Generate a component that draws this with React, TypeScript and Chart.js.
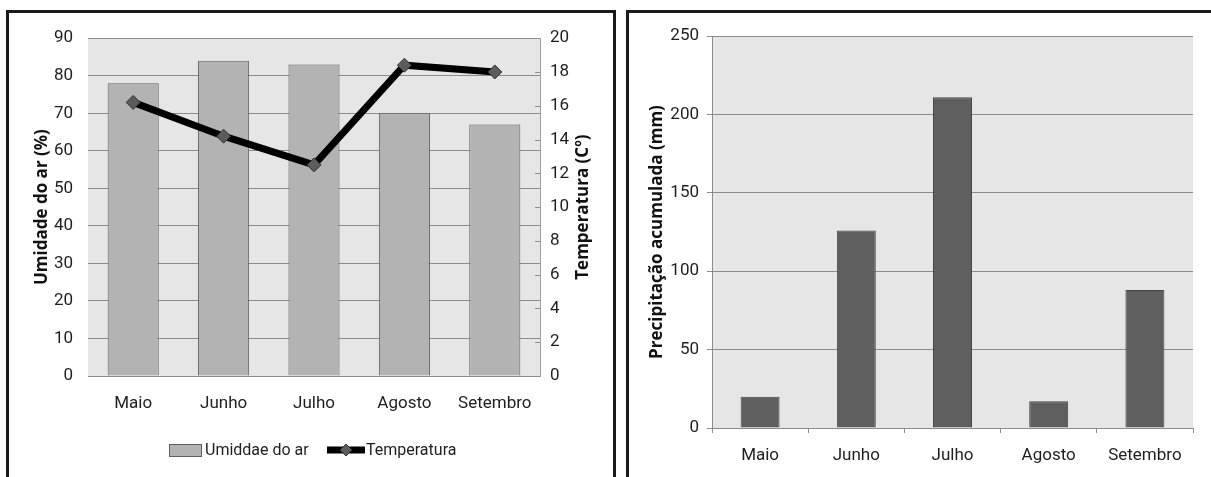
import { useEffect, useRef } from "react";
import { Chart, registerables } from "chart.js";

Chart.register(...registerables);

// Monthly data
const months = ["Maio", "Junho", "Julho", "Agosto", "Setembro"];
const humidity = [78, 84, 83, 70, 67];
const temperature = [16.2, 14.2, 12.5, 18.4, 18.0];
const rainfall = [20, 126, 211, 17, 88];

// Text
const humidityLabel = "Umiddae do ar";
const temperatureLabel = "Temperatura";
const humidityAxisTitle = "Umidade do ar (%)";
const temperatureAxisTitle = "Temperatura (Cº)";
const rainfallAxisTitle = "Precipitação acumulada (mm)";

const tickFont = { family: "Roboto, 'Liberation Sans', sans-serif", size: 17 };
const legendFont = "16px Roboto, 'Liberation Sans', sans-serif";
const titleFont = "bold 17px 'Open Sans', 'DejaVu Sans', sans-serif";
const textColor = "#1e1e1e";
const gridColor = "#8c8c8c";
const plotFill = "#e6e6e6";

// Fills the chart area before anything else is drawn
const plotBackground = {
  id: "plotBackground",
  beforeDraw(chart: any) {
    const { ctx, chartArea: a } = chart;
    ctx.save();
    ctx.fillStyle = plotFill;
    ctx.fillRect(a.left, a.top, a.width, a.height);
    ctx.restore();
  },
};

// Vertical axis title, read from bottom to top, centred on the chart area
function drawVerticalTitle(chart: any, text: string, x: number) {
  const { ctx, chartArea: a } = chart;
  ctx.save();
  ctx.translate(x, (a.top + a.bottom) / 2);
  ctx.rotate(-Math.PI / 2);
  ctx.font = titleFont;
  ctx.fillStyle = "#111";
  ctx.textAlign = "center";
  ctx.textBaseline = "middle";
  ctx.fillText(text, 0, 0);
  ctx.restore();
}

function drawDiamond(ctx: CanvasRenderingContext2D, x: number, y: number, r: number) {
  ctx.beginPath();
  ctx.moveTo(x, y - r);
  ctx.lineTo(x + r, y);
  ctx.lineTo(x, y + r);
  ctx.lineTo(x - r, y);
  ctx.closePath();
  ctx.fillStyle = "#5c5c5c";
  ctx.fill();
  ctx.strokeStyle = "#333";
  ctx.lineWidth = 1;
  ctx.stroke();
}

const humidityDecor = {
  id: "humidityDecor",
  afterDraw(chart: any) {
    const { ctx } = chart;
    const y1 = chart.scales.y1;
    // inner tick marks on the temperature axis
    ctx.save();
    ctx.strokeStyle = gridColor;
    ctx.lineWidth = 1;
    y1.ticks.forEach((t: any) => {
      const py = Math.round(y1.getPixelForValue(t.value)) + 0.5;
      ctx.beginPath();
      ctx.moveTo(y1.left - 5, py);
      ctx.lineTo(y1.left, py);
      ctx.stroke();
    });
    ctx.restore();

    drawVerticalTitle(chart, humidityAxisTitle, 33);
    drawVerticalTitle(chart, temperatureAxisTitle, 574);

    // legend
    ctx.save();
    ctx.font = legendFont;
    ctx.textBaseline = "middle";
    const ly = 438;
    ctx.fillStyle = "#b3b3b3";
    ctx.fillRect(160.5, ly - 6.5, 32, 12);
    ctx.strokeStyle = "#5e5e5e";
    ctx.lineWidth = 1;
    ctx.strokeRect(160.5, ly - 6.5, 32, 12);
    ctx.fillStyle = textColor;
    ctx.fillText(humidityLabel, 196, ly);
    ctx.strokeStyle = "#000";
    ctx.lineWidth = 7;
    ctx.beginPath();
    ctx.moveTo(318, ly - 1);
    ctx.lineTo(356, ly - 1);
    ctx.stroke();
    drawDiamond(ctx, 337, ly - 1, 6);
    ctx.fillStyle = textColor;
    ctx.fillText(temperatureLabel, 357, ly);
    ctx.restore();
  },
};

const rainfallDecor = {
  id: "rainfallDecor",
  afterDraw(chart: any) {
    drawVerticalTitle(chart, rainfallAxisTitle, 28);
  },
};

function HumidityChart() {
  const ref = useRef<HTMLCanvasElement>(null);
  useEffect(() => {
    const chart = new Chart(ref.current!, {
      type: "bar",
      data: {
        labels: months,
        datasets: [
          {
            type: "line",
            label: temperatureLabel,
            data: temperature,
            yAxisID: "y1",
            borderColor: "#000",
            borderWidth: 7,
            pointStyle: "rectRot",
            pointRadius: 7,
            pointBackgroundColor: "#5c5c5c",
            pointBorderColor: "#333",
            pointBorderWidth: 1,
            order: 0,
          } as any,
          {
            type: "bar",
            label: humidityLabel,
            data: humidity,
            yAxisID: "y",
            backgroundColor: "#b3b3b3",
            borderColor: "#5e5e5e",
            borderWidth: 1,
            barPercentage: 0.565,
            categoryPercentage: 1,
            order: 1,
          },
        ],
      },
      options: {
        responsive: false,
        animation: false,
        layout: { padding: { top: 24, left: 0, right: 0, bottom: 0 } },
        plugins: { legend: { display: false }, tooltip: { enabled: false } },
        scales: {
          x: {
            grid: { display: false, drawTicks: false },
            border: { display: true, color: gridColor },
            ticks: { font: tickFont, color: textColor, padding: 18 },
            afterFit(s: any) {
              s.height = 101;
            },
          },
          y: {
            position: "left",
            min: 0,
            max: 90,
            ticks: { stepSize: 10, padding: 15, font: tickFont, color: textColor },
            grid: { color: gridColor, drawTicks: false },
            border: { display: false },
            afterFit(s: any) {
              s.width = 79;
            },
          },
          y1: {
            position: "right",
            min: 0,
            max: 20,
            ticks: { stepSize: 2, padding: 10, font: tickFont, color: textColor },
            grid: { display: false, drawTicks: false },
            border: { display: true, color: "#a0a0a0" },
            afterFit(s: any) {
              s.width = 73;
            },
          },
        },
      },
      plugins: [plotBackground, humidityDecor],
    });
    return () => chart.destroy();
  }, []);
  return <canvas ref={ref} width={604} height={464} style={{ position: "absolute", left: 9, top: 13 }} />;
}

function RainfallChart() {
  const ref = useRef<HTMLCanvasElement>(null);
  useEffect(() => {
    const chart = new Chart(ref.current!, {
      type: "bar",
      data: {
        labels: months,
        datasets: [
          {
            label: rainfallAxisTitle,
            data: rainfall,
            backgroundColor: "#5f5f5f",
            borderColor: "#444",
            borderWidth: 1,
            barPercentage: 0.405,
            categoryPercentage: 1,
          },
        ],
      },
      options: {
        responsive: false,
        animation: false,
        layout: { padding: { top: 23, left: 0, right: 18, bottom: 0 } },
        plugins: { legend: { display: false }, tooltip: { enabled: false } },
        scales: {
          x: {
            grid: { display: true, drawOnChartArea: false, drawTicks: true, tickLength: 5, color: gridColor },
            border: { display: true, color: gridColor },
            ticks: { font: tickFont, color: textColor, padding: 13 },
            afterFit(s: any) {
              s.height = 49;
            },
          },
          y: {
            min: 0,
            max: 250,
            ticks: { stepSize: 50, padding: 8, font: tickFont, color: textColor },
            grid: { color: gridColor, drawTicks: true, tickLength: 5 },
            border: { display: true, color: gridColor },
            afterFit(s: any) {
              s.width = 83;
            },
          },
        },
      },
      plugins: [plotBackground, rainfallDecor],
    });
    return () => chart.destroy();
  }, []);
  return <canvas ref={ref} width={582} height={464} style={{ position: "absolute", left: 629, top: 13 }} />;
}

export default function App() {
  return (
    <div style={{ position: "absolute", left: 0, top: 0, width: 1211, height: 477, overflow: "hidden", background: "#fff" }}>
      <div
        style={{
          position: "absolute",
          left: 6,
          top: 10,
          width: 604,
          height: 480,
          borderTop: "3px solid #1a1a1a",
          borderLeft: "3px solid #1a1a1a",
          borderRight: "3px solid #1a1a1a",
        }}
      />
      <div
        style={{
          position: "absolute",
          left: 626,
          top: 10,
          width: 600,
          height: 480,
          borderTop: "3px solid #1a1a1a",
          borderLeft: "3px solid #1a1a1a",
        }}
      />
      <HumidityChart />
      <RainfallChart />
    </div>
  );
}
